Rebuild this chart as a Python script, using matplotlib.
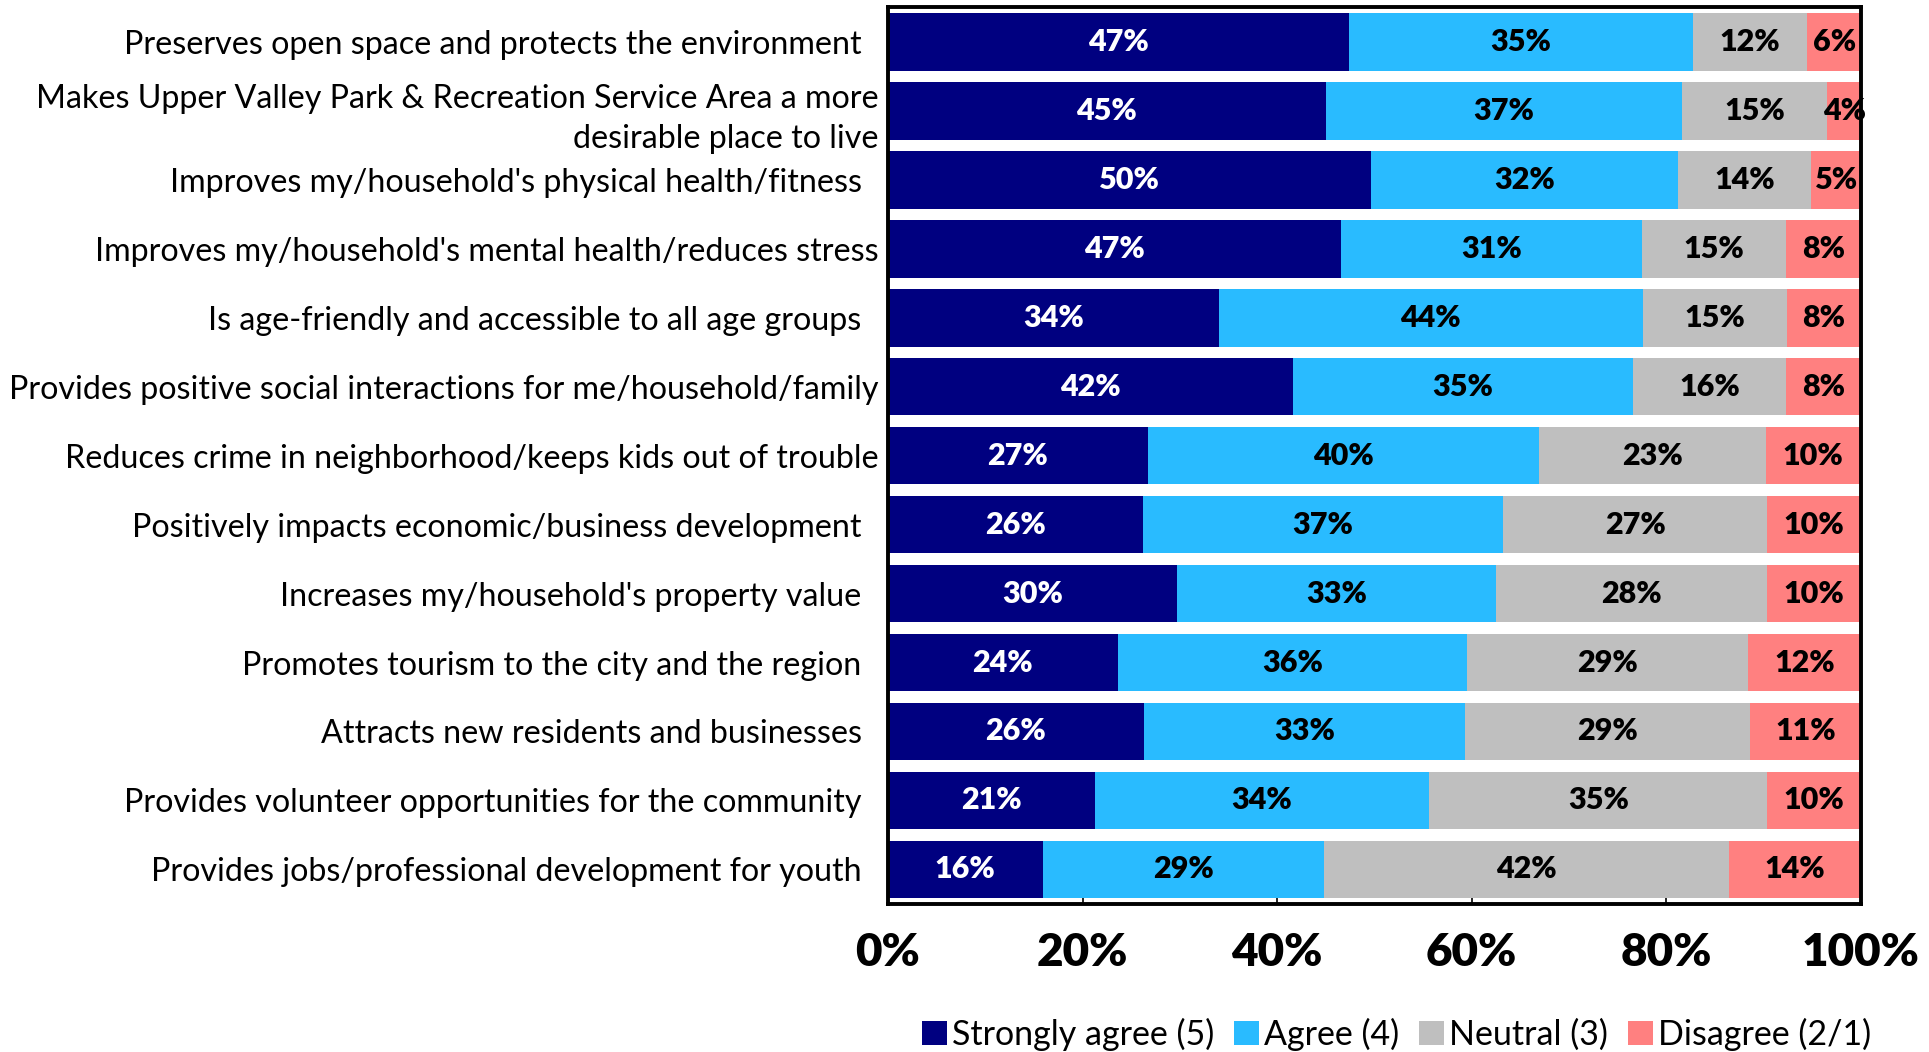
import numpy as np
import matplotlib.pyplot as plt
from matplotlib.patches import Patch
from matplotlib.ticker import PercentFormatter

plt.rcParams['font.family'] = ['Lato', 'DejaVu Sans']

categories = [
    "Preserves open space and protects the environment  ",
    "Makes Upper Valley Park & Recreation Service Area a more\ndesirable place to live",
    "Improves my/household's physical health/fitness  ",
    "Improves my/household's mental health/reduces stress",
    "Is age-friendly and accessible to all age groups  ",
    "Provides positive social interactions for me/household/family",
    "Reduces crime in neighborhood/keeps kids out of trouble",
    "Positively impacts economic/business development  ",
    "Increases my/household's property value  ",
    "Promotes tourism to the city and the region  ",
    "Attracts new residents and businesses  ",
    "Provides volunteer opportunities for the community  ",
    "Provides jobs/professional development for youth  ",
]

# shares in percent, one list per response level
strongly_agree = [47.4, 45.0, 49.6, 46.6, 34.0, 41.6, 26.7, 26.2, 29.7, 23.6, 26.3, 21.3, 15.9]
agree          = [35.3, 36.6, 31.6, 30.9, 43.6, 35.0, 40.2, 37.0, 32.8, 35.9, 33.0, 34.3, 28.9]
neutral        = [11.8, 14.9, 13.7, 14.8, 14.8, 15.7, 23.3, 27.2, 27.9, 28.9, 29.3, 34.8, 41.6]
disagree       = [5.5, 3.6, 5.1, 7.7, 7.6, 7.7, 9.8, 9.6, 9.6, 11.6, 11.4, 9.6, 13.6]

series = [strongly_agree, agree, neutral, disagree]
names = ["Strongly agree (5)", "Agree (4)", "Neutral (3)", "Disagree (2/1)"]
colors = ["#000080", "#29BBFF", "#BFBFBF", "#FF8080"]
text_colors = ["white", "black", "black", "black"]

fig = plt.figure(figsize=(19.29, 10.52), dpi=100)
ax = fig.add_axes([0.4603, 0.1407, 0.5044, 0.8526])

y = np.arange(len(categories))
left = np.zeros(len(categories))
for vals, name, col, tcol in zip(series, names, colors, text_colors):
    v = np.array(vals) / 100
    bars = ax.barh(y, v, left=left, height=0.84, color=col, label=name, zorder=2)
    for b, val in zip(bars, vals):
        ax.text(b.get_x() + b.get_width() / 2, b.get_y() + b.get_height() / 2,
                f"{val:.0f}%", ha="center", va="center", color=tcol,
                fontsize=22, fontweight="heavy", zorder=3, clip_on=False)
    left += v

ax.set_xlim(0, 1)
ax.set_ylim(len(categories) - 0.5, -0.5)
ax.set_yticks(y)
ax.set_yticklabels(categories, fontsize=23.2, linespacing=1.45)
ax.tick_params(axis="y", length=0, pad=7)
ax.set_xticks(np.linspace(0, 1, 6))
ax.xaxis.set_major_formatter(PercentFormatter(1.0, decimals=0))
ax.tick_params(axis="x", direction="in", length=4, width=1.2, pad=20, labelsize=33)
for lab in ax.get_xticklabels():
    lab.set_fontweight("heavy")
for sp in ax.spines.values():
    sp.set_linewidth(2.8)
    sp.set_color("black")

handles = [Patch(facecolor=c, edgecolor="none") for c in colors]
fig.legend(handles, names, loc="center", bbox_to_anchor=(0.724, 0.017), ncol=4,
           frameon=False, fontsize=24.5, handlelength=0.72, handleheight=0.72,
           handletextpad=0.15, columnspacing=0.6, borderaxespad=0)

fig.savefig("out.png", dpi=100)
